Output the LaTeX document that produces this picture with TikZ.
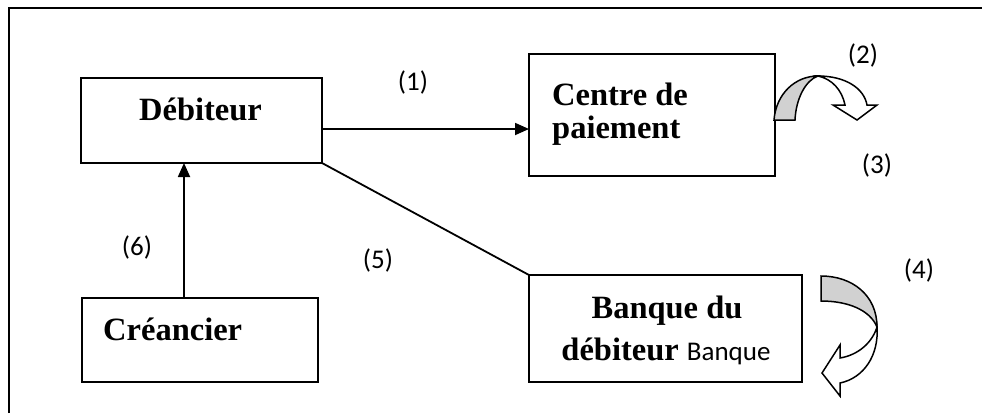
\documentclass[tikz,border=0pt]{standalone}
\usepackage{fontspec}
\setmainfont{Liberation Serif}
\newfontfamily\lblfont{Carlito}
\usetikzlibrary{arrows.meta}
\tikzset{
  box/.style={draw, line width=1.8pt, inner sep=0pt, outer sep=0pt},
  bigtxt/.style={font=\fontsize{32.5}{36}\selectfont\bfseries, inner sep=0pt},
  lbl/.style={font=\lblfont\fontsize{27}{30}\selectfont, inner sep=0pt},
  conn/.style={line width=1.8pt},
  curvy/.style={draw, line width=1.5pt, line join=miter},
}
\begin{document}
\begin{tikzpicture}[x=1pt,y=-1pt]
\useasboundingbox (0,0) rectangle (982,413);
% frame
\draw[line width=2.4pt] (9,413) -- (9,8) -- (982,8);
% boxes
\node[box, minimum width=241pt, minimum height=85pt] (deb) at (201.5,120.5) {};
\node[box, minimum width=246pt, minimum height=122pt] (cent) at (652,115) {};
\node[box, minimum width=273pt, minimum height=107pt] (banq) at (665.5,328.5) {};
\node[box, minimum width=236pt, minimum height=84pt] (crea) at (200,340) {};
% texts
\node[bigtxt, anchor=base] (tdeb) at (200.5,120) {Débiteur};
\node[bigtxt, anchor=base west] (tcent1) at (552,105) {Centre de};
\node[bigtxt, anchor=base west] (tcent2) at (552,138) {paiement};
\node[bigtxt, anchor=base] (tbanq1) at (667,318) {Banque du};
\node[anchor=base, inner sep=0pt] (tbanq2) at (666,360) {\fontsize{32.5}{36}\selectfont\bfseries débiteur {\lblfont\mdseries\fontsize{27}{30}\selectfont Banque}};
\node[bigtxt, anchor=base west] (tcrea) at (103,340) {Créancier};
% labels
\node[lbl] (l1) at (413,82) {(1)};
\node[lbl] (l2) at (863,55) {(2)};
\node[lbl] (l3) at (877,165) {(3)};
\node[lbl] (l4) at (919,270) {(4)};
\node[lbl] (l5) at (378,260) {(5)};
\node[lbl] (l6) at (137,247) {(6)};
% connectors
\coordinate (a1s) at (322,129);
\draw[conn, -{Triangle[length=14pt,width=12pt]}] (a1s) -- (cent.west |- a1s);
\draw[conn] (deb.south east) -- (banq.north west);
\draw[conn, -{Triangle[length=14pt,width=12pt]}] (crea.north -| 184,0) -- (deb.south -| 184,0);
% curved arrow (2)
\filldraw[curvy, fill=black!18] (774,120) .. controls (776,94) and (795,76) .. (818,76)
   .. controls (806,80) and (796,98) .. (795,120) -- cycle;
\filldraw[curvy, fill=white] (818,76) .. controls (845,76) and (864,88) .. (867,105)
   -- (877,105) -- (857,120) -- (833,105) -- (845,105)
   .. controls (842,90) and (832,79) .. (818,76) -- cycle;
% curved arrow (4)
\filldraw[curvy, fill=black!18] (821,276) .. controls (852,276) and (877,295) .. (877,327)
   .. controls (870,310) and (848,301) .. (821,301) -- cycle;
\filldraw[curvy, fill=white] (877,327) .. controls (872,343) and (858,355) .. (840,358)
   -- (840,345) -- (822,373) -- (840,396) -- (840,383)
   .. controls (864,378) and (879,355) .. (877,327) -- cycle;
\end{tikzpicture}
\end{document}
